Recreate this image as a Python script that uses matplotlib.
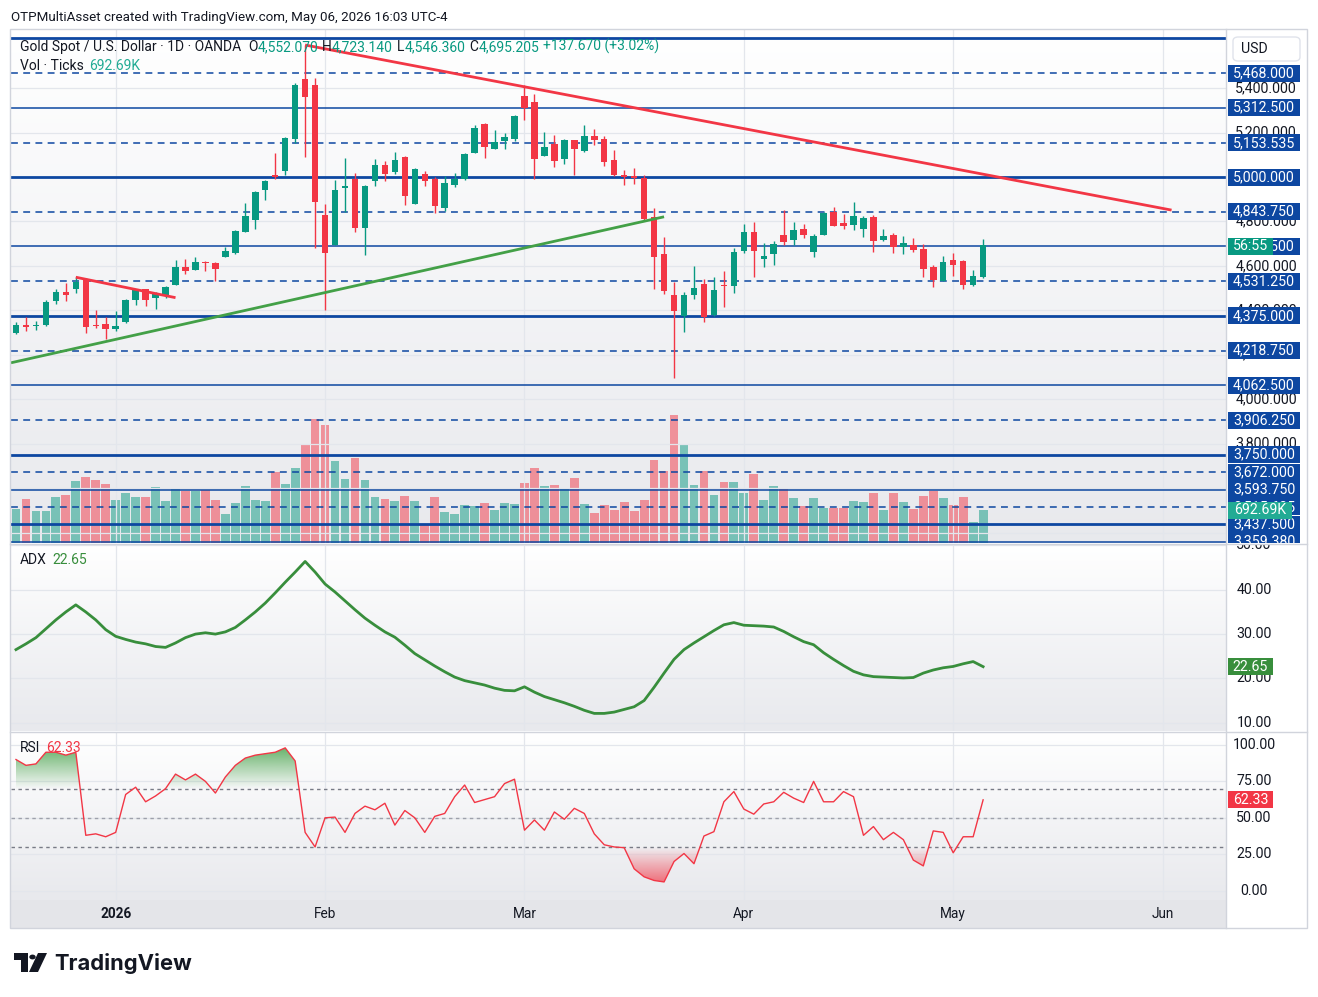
import numpy as np
import matplotlib.pyplot as plt
from matplotlib.colors import LinearSegmentedColormap, to_rgb
from matplotlib.patches import Rectangle, PathPatch, Polygon, Circle, FancyBboxPatch
from matplotlib.path import Path

plt.rcParams['font.family'] = ['Roboto', 'DejaVu Sans']

# daily bars, oldest first (last bar = May 06, 2026)
opens = [4297, 4334, 4329, 4334, 4442, 4481, 4497, 4539, 4336, 4338,
         4317, 4349, 4448, 4494, 4457, 4469, 4515, 4593, 4583, 4619,
         4614, 4641, 4656, 4754, 4806, 4941, 5009, 5028, 5171, 5439,
         5414, 4829, 4694, 4952, 4991, 4772, 4983, 5054, 5022, 5090,
         4878, 5013, 4991, 4860, 4964, 4991, 5108, 5238, 5126, 5162,
         5171, 5364, 5337, 5094, 5148, 5081, 5166, 5117, 5184, 5171,
         5076, 5009, 5004, 4997, 4820, 4653, 4469, 4376, 4469, 4518,
         4380, 4512, 4511, 4668, 4752, 4632, 4655, 4739, 4718, 4766,
         4664, 4740, 4842, 4793, 4785, 4767, 4820, 4718, 4739, 4685,
         4694, 4677, 4595, 4533, 4626, 4622, 4515, 4552.07]
highs = [4346, 4371, 4352, 4446, 4494, 4524, 4548, 4547, 4401, 4368,
         4395, 4449, 4496, 4497, 4481, 4511, 4626, 4631, 4638, 4622,
         4617, 4683, 4761, 4881, 4938, 4986, 5106, 5181, 5421, 5594,
         5444, 4877, 4986, 5084, 5016, 4964, 5081, 5072, 5111, 5095,
         5040, 5027, 5000, 5004, 5018, 5106, 5234, 5243, 5211, 5198,
         5278, 5414, 5373, 5202, 5189, 5171, 5168, 5234, 5216, 5184,
         5121, 5031, 5040, 5009, 4860, 4728, 4529, 4482, 4599, 4541,
         4550, 4577, 4680, 4788, 4797, 4703, 4712, 4851, 4797, 4788,
         4743, 4844, 4865, 4833, 4887, 4824, 4829, 4766, 4748, 4734,
         4725, 4698, 4604, 4644, 4658, 4628, 4581, 4723.14]
lows = [4294, 4308, 4311, 4330, 4428, 4443, 4479, 4299, 4319, 4272,
        4308, 4344, 4424, 4421, 4407, 4454, 4515, 4563, 4583, 4578,
        4533, 4641, 4653, 4754, 4766, 4896, 4989, 5009, 5151, 5091,
        4679, 4401, 4694, 4841, 4752, 4649, 4959, 4983, 5013, 4874,
        4878, 4959, 4838, 4847, 4955, 4988, 5108, 5085, 5126, 5126,
        5162, 5256, 4991, 5094, 5045, 5058, 5009, 5112, 5144, 5049,
        5004, 4964, 4968, 4802, 4496, 4473, 4097, 4304, 4452, 4349,
        4376, 4416, 4479, 4659, 4551, 4596, 4604, 4694, 4694, 4725,
        4641, 4740, 4778, 4767, 4761, 4731, 4664, 4713, 4659, 4655,
        4664, 4551, 4506, 4533, 4556, 4497, 4511, 4546.36]
closes = [4334, 4326, 4334, 4437, 4481, 4470, 4526, 4326, 4331, 4317,
          4331, 4446, 4491, 4448, 4473, 4505, 4593, 4578, 4619, 4611,
          4587, 4667, 4758, 4824, 4934, 4982, 4998, 5177, 5414, 5361,
          4889, 4656, 4942, 4959, 4772, 4959, 5054, 5013, 5076, 4914,
          5036, 4983, 4869, 4973, 4991, 5103, 5220, 5135, 5157, 5180,
          5274, 5310, 5081, 5135, 5072, 5166, 5126, 5184, 5166, 5067,
          5009, 4998, 4997, 4811, 4641, 4488, 4398, 4469, 4500, 4371,
          4491, 4508, 4662, 4752, 4668, 4644, 4698, 4709, 4761, 4739,
          4734, 4838, 4781, 4781, 4824, 4815, 4713, 4734, 4685, 4703,
          4673, 4587, 4538, 4617, 4605, 4515, 4554, 4695.205]
volume_k = [714, 924, 672, 672, 966, 1008, 1302, 1386, 1323, 1239,
            903, 1050, 966, 966, 1176, 882, 1155, 1092, 1092, 1113,
            903, 609, 840, 1197, 903, 882, 1491, 1239, 1575, 2079,
            2604, 2478, 1722, 1344, 1785, 1323, 966, 924, 882, 987,
            882, 399, 966, 651, 609, 798, 777, 840, 693, 840,
            819, 1260, 1575, 1197, 1218, 1155, 1365, 819, 630, 798,
            693, 861, 672, 903, 1743, 1512, 2688, 2079, 1218, 1512,
            1008, 1281, 1281, 1050, 1449, 903, 1197, 1134, 945, 777,
            945, 735, 735, 735, 882, 861, 1050, 693, 1050, 861,
            714, 987, 1092, 945, 798, 966, 441, 692.69]
adx = [26.5, 27.8, 29.2, 31.2, 33.2, 35.0, 36.6, 35.0, 33.2, 31.0,
       29.5, 28.8, 28.2, 27.8, 27.2, 27.0, 28.0, 29.2, 30.0, 30.3,
       30.0, 30.5, 31.5, 33.2, 35.0, 37.0, 39.3, 41.7, 44.0, 46.4,
       44.0, 41.3, 39.5, 37.5, 35.5, 33.6, 32.0, 30.5, 29.3, 27.5,
       25.6, 24.2, 22.8, 21.5, 20.3, 19.5, 19.0, 18.5, 17.8, 17.3,
       17.2, 18.1, 16.9, 15.9, 15.2, 14.5, 13.7, 12.8, 12.1, 12.1,
       12.4, 13.0, 13.6, 15.0, 18.0, 21.2, 24.3, 26.5, 28.0, 29.4,
       30.8, 32.1, 32.6, 32.0, 31.9, 31.8, 31.6, 30.6, 29.4, 28.3,
       27.6, 25.8, 24.3, 22.9, 21.6, 20.8, 20.4, 20.3, 20.2, 20.1,
       20.2, 21.2, 21.9, 22.4, 22.7, 23.3, 23.8, 22.65]
rsi = [90, 86, 87, 95, 95, 93, 95, 38, 39, 37,
       40, 66, 71, 61, 65, 70, 80, 76, 80, 75,
       67, 78, 86, 91, 93, 94, 95, 98, 89, 40,
       30, 50, 50.5, 40, 53, 58, 55.5, 60, 45, 55,
       50, 40, 51, 53, 64.5, 72.5, 60.5, 62.5, 64.5, 73.5,
       76.5, 41.5, 48.5, 41.5, 54, 49, 56.5, 53, 39, 31.5,
       30, 29.5, 15, 9.5, 7, 6, 20, 25.5, 18.5, 37.5,
       40.5, 61, 68, 56, 52.5, 59.5, 61, 67.5, 63.5, 60.5,
       75, 61, 61, 68, 64.5, 38, 44, 35, 40, 35,
       21, 17, 41, 40, 26, 37, 37, 62.33]

month_bars = [10, 31, 51, 73, 94, 115]
month_labels = ['2026', 'Feb', 'Mar', 'Apr', 'May', 'Jun']

# user drawn horizontal levels
levels = [5625, 5468, 5312.5, 5153.535, 5000, 4843.75, 4687.5, 4531.25, 4375,
          4218.75, 4062.5, 3906.25, 3750, 3672, 3593.75, 3515.625, 3437.5, 3359.38]
level_styles = ['thick', 'dash', 'thin', 'dash', 'thick', 'dash', 'thin', 'dash', 'thick',
                'dash', 'thin', 'dash', 'thick', 'dash', 'thin', 'dash', 'thick', 'thin']
level_labels = [None, '5,468.000', '5,312.500', '5,153.535', '5,000.000', '4,843.750',
                '4,687.500', '4,531.250', '4,375.000', '4,218.750', '4,062.500', '3,906.250',
                '3,750.000', '3,672.000', '3,593.750', '3,515.625', '3,437.500', '3,359.380']
price_ticks = [5400, 5200, 4800, 4600, 4400, 4200, 4000, 3800, 3600, 3400]
adx_ticks = [10, 20, 30, 40, 50]
rsi_ticks = [0, 25, 50, 75, 100]

# trend lines (bar index, price)
trend_down = ([29, 115.9], [5594, 4851])
trend_small = ([6, 16], [4549, 4457])
trend_up = ([-0.5, 65], [4164, 4821])

GREEN, RED, BLUE = '#089981', '#f23645', '#0d47a1'
TXT, GRID = '#131722', '#e3e6ec'
AX_FS = 10.2

W, H = 1318, 997
L, R = 11, 1226
XLIM = (-0.5, 121.36)


def rect(y0, y1, x0=L, x1=R):
    return [x0 / W, 1 - y1 / H, (x1 - x0) / W, (y1 - y0) / H]


def bg(ax, bottom='#e8e9ed'):
    cmap = LinearSegmentedColormap.from_list('bg', [bottom, '#ffffff'])
    ax.imshow(np.linspace(0, 1, 256).reshape(-1, 1), extent=[0, 1, 0, 1], transform=ax.transAxes,
              origin='lower', aspect='auto', cmap=cmap, zorder=0)


def bare(ax, xlim, ylim):
    ax.set_xlim(*xlim)
    ax.set_ylim(*ylim)
    ax.set_xticks([])
    ax.set_yticks([])
    for s in ax.spines.values():
        s.set_visible(False)


fig = plt.figure(figsize=(W / 100, H / 100), dpi=100)
x = np.arange(len(closes))
o, h, l, c = map(np.array, (opens, highs, lows, closes))
up = c >= o
cols = np.where(up, GREEN, RED)

# ---------------- price pane ----------------
P_PANE = (29, 543)
P_LIM = (3353, 5666)
ax_vol = fig.add_axes(rect(*P_PANE))
bg(ax_vol)
bare(ax_vol, XLIM, (0, 514 * 21))
ax_vol.bar(x, volume_k, 0.88, color=cols, alpha=0.5, linewidth=0, zorder=2)

ax = fig.add_axes(rect(*P_PANE), facecolor='none')
bare(ax, XLIM, P_LIM)
for m in month_bars:
    ax.axvline(m, color=GRID, lw=0.9, zorder=0)
for t in price_ticks:
    ax.axhline(t, color=GRID, lw=0.9, zorder=0)
for lv, st in zip(levels, level_styles):
    if st == 'thick':
        ax.axhline(lv, color=BLUE, lw=2.0, zorder=3)
    elif st == 'thin':
        ax.axhline(lv, color=BLUE, lw=1.1, zorder=3)
    else:
        ax.axhline(lv, color=BLUE, lw=1.1, ls=(0, (4.5, 3.5)), zorder=3)

ax.vlines(x, l, h, colors=cols, lw=1.0, zorder=5)
ax.bar(x, np.maximum(np.abs(c - o), 4.5), 0.65, bottom=np.minimum(o, c), color=cols,
       linewidth=0, zorder=6)

ax.plot(*trend_down, color=RED, lw=2.0, zorder=7, solid_capstyle='butt')
ax.plot(*trend_small, color=RED, lw=2.0, zorder=7, solid_capstyle='butt')
ax.plot(*trend_up, color='#43a047', lw=2.0, zorder=7, solid_capstyle='butt')

# ---------------- ADX pane ----------------
A_PANE = (545, 731)
A_LIM = (8.13, 50.11)
ax_adx = fig.add_axes(rect(*A_PANE))
bg(ax_adx)
bare(ax_adx, XLIM, A_LIM)
for m in month_bars:
    ax_adx.axvline(m, color=GRID, lw=0.9, zorder=1)
for t in adx_ticks:
    ax_adx.axhline(t, color=GRID, lw=0.9, zorder=1)
ax_adx.plot(x, adx, color='#388e3c', lw=2.0, zorder=5)

# ---------------- RSI pane ----------------
S_PANE = (733, 900)
S_LIM = (-6.4, 108.2)
ax_rsi = fig.add_axes(rect(*S_PANE))
bg(ax_rsi)
bare(ax_rsi, XLIM, S_LIM)
for m in month_bars:
    ax_rsi.axvline(m, color=GRID, lw=0.9, zorder=1)
for t in rsi_ticks:
    ax_rsi.axhline(t, color=GRID, lw=0.9, zorder=1)
ax_rsi.axhline(70, color='#787b86', lw=1.0, ls=(0, (2.5, 2.5)), zorder=2)
ax_rsi.axhline(50, color='#9ea1ab', lw=1.0, ls=(0, (2.5, 2.5)), zorder=2)
ax_rsi.axhline(30, color='#787b86', lw=1.0, ls=(0, (2.5, 2.5)), zorder=2)

rs = np.array(rsi, dtype=float)


def grad_fill(axr, level, above, color):
    if above:
        coll = axr.fill_between(x, rs, level, where=rs >= level, interpolate=True,
                                facecolor='none', edgecolor='none')
        ext = [x[0], x[-1], level, 100]
        alphas = np.linspace(0.0, 0.85, 256)
    else:
        coll = axr.fill_between(x, rs, level, where=rs <= level, interpolate=True,
                                facecolor='none', edgecolor='none')
        ext = [x[0], x[-1], 0, level]
        alphas = np.linspace(0.85, 0.0, 256)
    img = np.zeros((256, 1, 4))
    img[..., :3] = to_rgb(color)
    img[..., 3] = alphas[:, None]
    im = axr.imshow(img, extent=ext, origin='lower', aspect='auto', zorder=3)
    patch = PathPatch(Path.make_compound_path(*coll.get_paths()), transform=axr.transData,
                      facecolor='none', edgecolor='none')
    axr.add_patch(patch)
    im.set_clip_path(patch)


grad_fill(ax_rsi, 70, True, '#43a047')
grad_fill(ax_rsi, 30, False, RED)
ax_rsi.set_xlim(*XLIM)
ax_rsi.set_ylim(*S_LIM)
ax_rsi.plot(x, rs, color=RED, lw=1.0, zorder=5)

# ---------------- time axis ----------------
ax_x = fig.add_axes(rect(900, 928), facecolor='#e4e5e9')
bare(ax_x, XLIM, (0, 1))
for m, lab in zip(month_bars, month_labels):
    ax_x.text(m, 0.5, lab, ha='center', va='center', fontsize=9.8, color=TXT,
              fontweight='bold' if lab == '2026' else 'normal')


# ---------------- right scale columns ----------------
def scale_col(pane, ylim):
    a = fig.add_axes(rect(pane[0], pane[1], R, 1307))
    a.set_xlim(0, 81)
    a.set_ylim(*ylim)
    a.axis('off')
    a.per_px = (ylim[1] - ylim[0]) / (pane[1] - pane[0])
    return a


def box(a, val, text, fc, tc='white', x0=2, x1=74, hpx=17, z=5):
    a.add_patch(Rectangle((x0, val - hpx / 2 * a.per_px), x1 - x0, hpx * a.per_px,
                          facecolor=fc, edgecolor='none', zorder=z))
    a.text((x0 + x1) / 2, val, text, ha='center', va='center', color=tc, fontsize=AX_FS,
           zorder=z + 0.5, clip_on=True)


col_p = scale_col(P_PANE, P_LIM)
for t in price_ticks:
    col_p.text(40, t, f'{t:,.3f}', ha='center', va='center', fontsize=AX_FS, color=TXT,
               zorder=1, clip_on=True)
for lv, lab in zip(levels, level_labels):
    if lab:
        box(col_p, lv, lab, BLUE, z=3)
box(col_p, 4687.5, '56:55', GREEN, x0=2, x1=47, z=8)

col_v = scale_col(P_PANE, (0, 514 * 21))
box(col_v, volume_k[-1], '692.69K', '#22ab94', x0=2, x1=66, z=8)

col_a = scale_col(A_PANE, A_LIM)
for t in adx_ticks:
    col_a.text(28, t, f'{t:.2f}', ha='center', va='center', fontsize=AX_FS, color=TXT, clip_on=True)
box(col_a, adx[-1], f'{adx[-1]:.2f}', '#388e3c', x0=2, x1=47)

col_s = scale_col(S_PANE, S_LIM)
for t in rsi_ticks:
    col_s.text(28, t, f'{t:.2f}', ha='center', va='center', fontsize=AX_FS, color=TXT, clip_on=True)
box(col_s, rsi[-1], f'{rsi[-1]:.2f}', RED, x0=2, x1=47)


# ---------------- legends ----------------
def text_run(axr, xa, ya, pieces, size=10.0):
    prev = axr.text(xa, ya, pieces[0][0], color=pieces[0][1], fontsize=size, ha='left',
                    va='center', transform=axr.transAxes, zorder=20)
    for s, col, gap in pieces[1:]:
        prev = axr.annotate(s, xy=(1, 0), xycoords=prev, xytext=(gap, 0),
                            textcoords='offset points', ha='left', va='bottom', color=col,
                            fontsize=size, zorder=20, annotation_clip=False)
    return prev


def ax_frac(axr, pane, px, py):
    return (px - L) / (R - L), 1 - (py - pane[0]) / (pane[1] - pane[0])


pcs = [('Gold Spot / U.S. Dollar · 1D · OANDA', TXT),
       ('O', TXT, 5), ('4,552.070', GREEN, 0), ('H', TXT, 3), ('4,723.140', GREEN, 0),
       ('L', TXT, 3), ('4,546.360', GREEN, 0), ('C', TXT, 3), ('4,695.205', GREEN, 0),
       ('+137.670 (+3.02%)', GREEN, 3)]
text_run(ax, *ax_frac(ax, P_PANE, 20, 47), pcs)
text_run(ax, *ax_frac(ax, P_PANE, 20, 66), [('Vol · Ticks', TXT), ('692.69K', '#22ab94', 4)])
text_run(ax_adx, *ax_frac(ax_adx, A_PANE, 20, 560), [('ADX', TXT), ('22.65', '#388e3c', 4)])
text_run(ax_rsi, *ax_frac(ax_rsi, S_PANE, 20, 748), [('RSI', TXT), ('62.33', RED, 4)])

# ---------------- frame, title, logo ----------------
def fx(px):
    return px / W


def fy(py):
    return 1 - py / H


line_kw = dict(color='#d1d4dc', lw=1.0, transform=fig.transFigure)
fig.add_artist(Rectangle((fx(10), fy(928)), fx(1307) - fx(10), fy(29) - fy(928),
                         transform=fig.transFigure, facecolor='none', edgecolor='#d1d4dc', lw=1))
fig.add_artist(plt.Line2D([fx(R), fx(R)], [fy(29), fy(928)], **line_kw))
fig.add_artist(plt.Line2D([fx(10), fx(1307)], [fy(544), fy(544)], **line_kw))
fig.add_artist(plt.Line2D([fx(10), fx(1307)], [fy(732), fy(732)], **line_kw))

fig.add_artist(FancyBboxPatch((fx(1233), fy(61)), fx(1300) - fx(1233), fy(37) - fy(61),
                              boxstyle='round,pad=0,rounding_size=0.004',
                              transform=fig.transFigure, facecolor='white',
                              edgecolor='#e0e3eb', lw=1))
fig.text(fx(1241), fy(49), 'USD', ha='left', va='center', fontsize=AX_FS, color=TXT)

fig.text(fx(11), fy(17), 'OTPMultiAsset created with TradingView.com, May 06, 2026 16:03 UTC-4',
         ha='left', va='center', fontsize=9.6, color=TXT)

logo = '#131722'
fig.add_artist(Polygon([(fx(14), fy(953)), (fx(28), fy(953)), (fx(28), fy(972)),
                        (fx(21), fy(972)), (fx(21), fy(960)), (fx(14), fy(960))],
                       closed=True, transform=fig.transFigure, facecolor=logo, edgecolor='none'))
fig.add_artist(Circle((fx(32.5), fy(957)), 3.2 / W, transform=fig.transFigure,
                      facecolor=logo, edgecolor='none'))
fig.add_artist(Polygon([(fx(38), fy(953)), (fx(47), fy(953)), (fx(38), fy(972)), (fx(29), fy(972))],
                       closed=True, transform=fig.transFigure, facecolor=logo, edgecolor='none'))
fig.text(fx(54), fy(963), 'TradingView', ha='left', va='center', fontsize=15.8,
         fontweight='bold', color=logo, family=['Inter', 'DejaVu Sans'])

fig.savefig('out.png', dpi=100, facecolor='white')
